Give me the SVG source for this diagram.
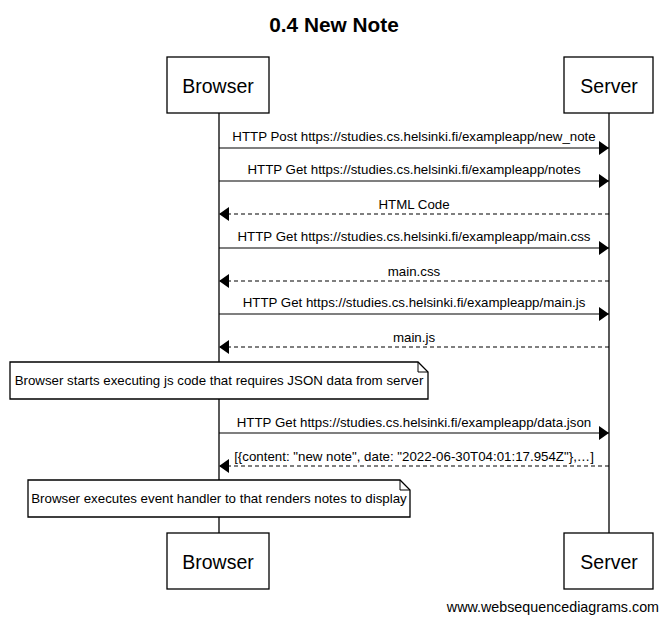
<svg xmlns="http://www.w3.org/2000/svg" width="668" height="624" viewBox="0 0 668 624">
<style>
.box{fill:#fff;stroke:#000;stroke-width:1.3}
.life{stroke:#000;stroke-width:1.3}
.msg{stroke:#000;stroke-width:1.2;fill:none}
.ret{stroke:#000;stroke-width:1.2;fill:none;stroke-dasharray:4,3}
.t{font-family:"Liberation Sans",Arial,sans-serif;font-size:13.3px;fill:#000;text-anchor:middle}
.actor{font-family:"Liberation Sans",Arial,sans-serif;font-size:19.5px;fill:#000;text-anchor:middle}
</style>
<defs>
<marker id="ah" markerWidth="10" markerHeight="14" refX="10" refY="7" orient="auto" markerUnits="userSpaceOnUse">
<path d="M0,0 L10,7 L0,14 Z" fill="#000"/>
</marker>
</defs>
<rect width="668" height="624" fill="#fff"/>
<text x="334" y="32" style="font-family:'Liberation Sans',Arial,sans-serif;font-size:20.8px;font-weight:bold;text-anchor:middle">0.4 New Note</text>
<g id="lifelines">
<line class="life" x1="219" y1="113" x2="219" y2="533"/>
<line class="life" x1="609" y1="113" x2="609" y2="533"/>
</g>
<g id="browser-top"><rect class="box" x="167" y="57" width="102" height="56"/><text class="actor" x="218" y="93">Browser</text></g>
<g id="server-top"><rect class="box" x="564" y="57" width="89" height="56"/><text class="actor" x="609" y="93">Server</text></g>
<g id="browser-bottom"><rect class="box" x="167" y="533" width="102" height="56"/><text class="actor" x="218" y="569">Browser</text></g>
<g id="server-bottom"><rect class="box" x="564" y="533" width="89" height="56"/><text class="actor" x="609" y="569">Server</text></g>
<g id="connectors">
<line class="msg" x1="219" y1="148" x2="609" y2="148" marker-end="url(#ah)"/>
<text class="t" x="414" y="141">HTTP Post https://studies.cs.helsinki.fi/exampleapp/new_note</text>
<line class="msg" x1="219" y1="181" x2="609" y2="181" marker-end="url(#ah)"/>
<text class="t" x="414" y="174">HTTP Get https://studies.cs.helsinki.fi/exampleapp/notes</text>
<line class="ret" x1="609" y1="214" x2="219" y2="214" marker-end="url(#ah)"/>
<text class="t" x="414" y="209">HTML Code</text>
<line class="msg" x1="219" y1="248" x2="609" y2="248" marker-end="url(#ah)"/>
<text class="t" x="414" y="241">HTTP Get https://studies.cs.helsinki.fi/exampleapp/main.css</text>
<line class="ret" x1="609" y1="281" x2="219" y2="281" marker-end="url(#ah)"/>
<text class="t" x="414" y="276">main.css</text>
<line class="msg" x1="219" y1="314" x2="609" y2="314" marker-end="url(#ah)"/>
<text class="t" x="414" y="307">HTTP Get https://studies.cs.helsinki.fi/exampleapp/main.js</text>
<line class="ret" x1="609" y1="347" x2="219" y2="347" marker-end="url(#ah)"/>
<text class="t" x="414" y="342">main.js</text>
<line class="msg" x1="219" y1="433" x2="609" y2="433" marker-end="url(#ah)"/>
<text class="t" x="414" y="427">HTTP Get https://studies.cs.helsinki.fi/exampleapp/data.json</text>
<line class="ret" x1="609" y1="466" x2="219" y2="466" marker-end="url(#ah)"/>
<text class="t" x="414" y="461">[{content: "new note", date: "2022-06-30T04:01:17.954Z"},…]</text>
</g>
<g id="note1">
<path class="box" d="M10,362 H418 L428,372 V399 H10 Z"/>
<path d="M418,362 V372 H428" fill="none" stroke="#000" stroke-width="1"/>
<text class="t" x="219" y="385">Browser starts executing js code that requires JSON data from server</text>
</g>
<g id="note2">
<path class="box" d="M28,480 H400 L410,490 V517 H28 Z"/>
<path d="M400,480 V490 H410" fill="none" stroke="#000" stroke-width="1"/>
<text class="t" x="219" y="503">Browser executes event handler to that renders notes to display</text>
</g>
<text x="659" y="612" style="font-family:'Liberation Sans',Arial,sans-serif;font-size:14.3px;text-anchor:end">www.websequencediagrams.com</text>
</svg>
